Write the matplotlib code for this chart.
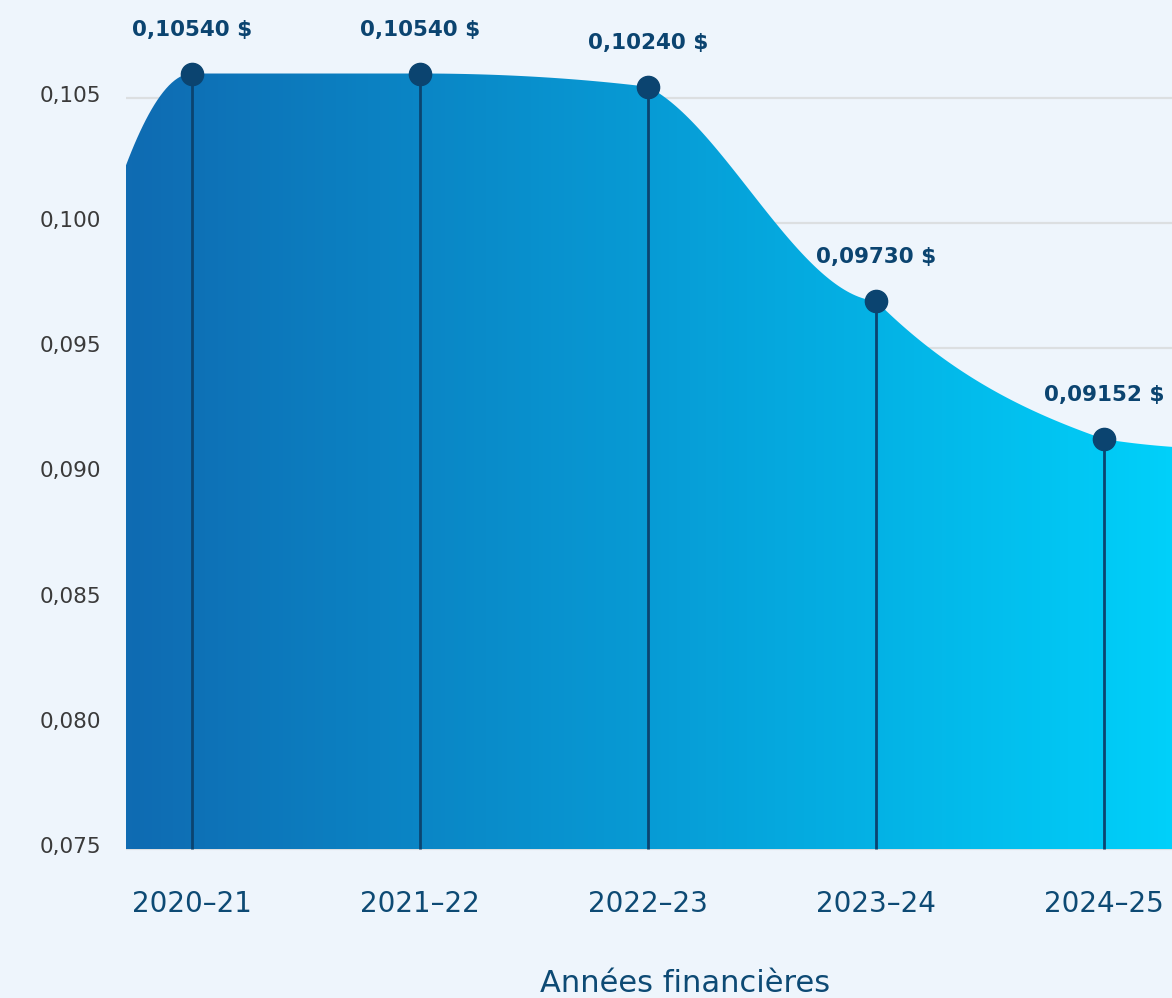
import numpy as np
import matplotlib
matplotlib.use("Agg")
import matplotlib.pyplot as plt
from matplotlib.colors import LinearSegmentedColormap
from matplotlib.patches import Polygon
from matplotlib.transforms import ScaledTranslation

# donnees
periodes = ["2020–21", "2021–22", "2022–23", "2023–24", "2024–25"]
etiquettes = ["0,10540 $", "0,10540 $", "0,10240 $", "0,09730 $", "0,09152 $"]
valeurs = [0.10597, 0.10597, 0.10544, 0.09689, 0.09137]
# la courbe continue hors du cadre des deux cotes
valeur_avant = 0.0737
valeur_apres = 0.09095

yticks = [0.075, 0.080, 0.085, 0.090, 0.095, 0.100, 0.105]

# forme de la courbe dessinee (pentes a gauche / a droite de chaque point, par annee)
pente_gauche = [0.0, 0.0, -0.0011, -0.0007, -0.0032]
pente_droite = [0.0, 0.0, -0.0046, -0.0091, -0.00146]

fond = "#eef5fc"
marine = "#0b4470"


def hermite(xs, ys, m_g, m_d, n=80):
    px, py = [], []
    for i in range(len(xs) - 1):
        h = xs[i + 1] - xs[i]
        t = np.linspace(0, 1, n)
        h00 = 2 * t**3 - 3 * t**2 + 1
        h10 = t**3 - 2 * t**2 + t
        h01 = -2 * t**3 + 3 * t**2
        h11 = t**3 - t**2
        px.append(xs[i] + t * h)
        py.append(h00 * ys[i] + h10 * h * m_d[i] + h01 * ys[i + 1] + h11 * h * m_g[i + 1])
    return np.concatenate(px), np.concatenate(py)


W, H = 1172, 998
fig = plt.figure(figsize=(W / 100, H / 100), dpi=100, facecolor=fond)

x0_px, x_step = 192, 228
xmin = (126 - x0_px) / x_step
xmax = (W - x0_px) / x_step
px_par_unite = 125.2 / 0.005
ybas = 0.07485
ax_bas_px = 849 + (0.075 - ybas) * px_par_unite
ax_haut_px = 20
yhaut = 0.075 + (849 - ax_haut_px) / px_par_unite

ax = fig.add_axes([126 / W, (H - ax_bas_px) / H, (W - 126) / W, (ax_bas_px - ax_haut_px) / H])
ax.set_facecolor(fond)

pos = np.arange(len(valeurs))
n = len(valeurs)
xs = np.r_[-1, pos, n]
ys = np.r_[valeur_avant, valeurs, valeur_apres]
# extremites hors cadre : meme regle que d3 (pente de bord)
s_av = valeurs[0] - valeur_avant
s_ap = valeur_apres - valeurs[-1]
m_g = np.r_[0.0, pente_gauche, (3 * s_ap - pente_droite[-1]) / 2]
m_d = np.r_[(3 * s_av - pente_gauche[0]) / 2, pente_droite, 0.0]
cx, cy = hermite(xs, ys, m_g, m_d)

# zone avec degrade horizontal
sommets = np.column_stack([cx, cy]).tolist() + [[cx[-1], 0.075], [cx[0], 0.075]]
poly = Polygon(sommets, closed=True, facecolor="none", edgecolor="none")
ax.add_patch(poly)
cmap = LinearSegmentedColormap.from_list("bleu", ["#0f6bb2", "#079bd5", "#00d0fa"])
im = ax.imshow(np.linspace(0, 1, 256).reshape(1, -1), extent=[xmin, xmax, 0.075, yhaut],
               aspect="auto", cmap=cmap, zorder=2, interpolation="bilinear")
im.set_clip_path(poly)

# tiges et points
ax.vlines(pos, 0.075, valeurs, color=marine, lw=2, zorder=3)
ax.plot(pos, valeurs, "o", color=marine, ms=16, zorder=4)

for x, v, txt in zip(pos, valeurs, etiquettes):
    ax.annotate(txt, (x, v), xytext=(0, 31.5), textcoords="offset points", ha="center", va="center",
                fontsize=15.5, fontweight="bold", color=marine, annotation_clip=False, zorder=5)

ax.set_xlim(xmin, xmax)
ax.set_ylim(ybas, yhaut)
ax.set_yticks(yticks)
ax.set_yticklabels([f"{t:.3f}".replace(".", ",") for t in yticks])
ax.set_xticks(pos)
ax.set_xticklabels(periodes)
ax.tick_params(axis="y", length=0, pad=18, labelsize=15.5, labelcolor="#3a3a3a")
ax.tick_params(axis="x", length=0, pad=27, labelsize=20, labelcolor="#0d4a74")
for lab in ax.get_yticklabels():
    lab.set_transform(lab.get_transform() + ScaledTranslation(0, 0.04, fig.dpi_scale_trans))
ax.set_axisbelow(True)
ax.yaxis.grid(True, color="#dcdfe1", lw=1.6)
for sp in ax.spines.values():
    sp.set_visible(False)

fig.text(685 / W, (H - 983) / H, "Années financières", ha="center", va="center",
         fontsize=22, color="#0d4a74")

fig.savefig("out.png", dpi=100, facecolor=fond)
